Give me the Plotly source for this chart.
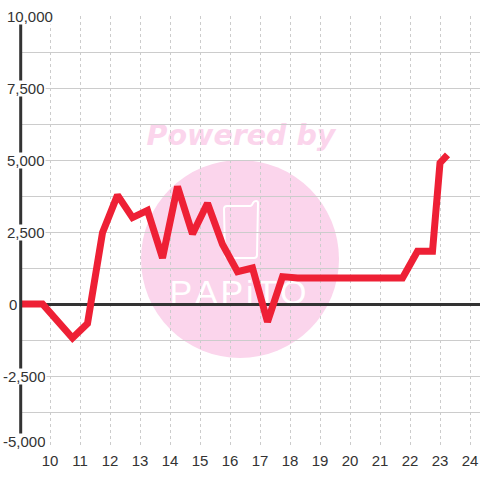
import plotly.graph_objects as go

hours = [8.9, 9.75, 10.75, 11.25, 11.75, 12.25, 12.75, 13.25, 13.75, 14.25, 14.75, 15.25, 15.75,
         16.25, 16.75, 17.25, 17.75, 18.25, 21.75, 22.25, 22.75, 23.0, 23.25]
values = [0, 0, -1180, -680, 2480, 3780, 3000, 3250, 1600, 4080, 2430, 3500, 2070,
          1120, 1250, -620, 950, 900, 900, 1830, 1830, 4900, 5180]
x_ticks = list(range(10, 25))
y_labels = [10000, 7500, 5000, 2500, 0, -2500, -5000]
y_label_left_px = [6, 6, 6, 6, 8, 2, 2]
y_label_lift_px = [0, 0, 0, 0, 0, 0, 7]

W, H = 480, 480
L, R, T, B = 20, 0, 16, 32
x_lo = 10 + (L + 0.5 - 50.5) / 30
x_hi = 10 + (W - R + 0.5 - 50.5) / 30
INK = "#333333"
PINK = "#fbd5ec"


def px(v):
    return (v - L) / (W - L - R)


def py(v):
    return (H - B - v) / (H - B - T)


phone = [("M", 227, 206), ("L", 250, 206), ("Q", 252, 206, 253, 203), ("Q", 254, 201, 256, 201),
         ("Q", 258, 201, 258, 203), ("L", 257, 255), ("Q", 257, 258, 254, 258), ("L", 228, 258),
         ("Q", 225, 258, 225, 255), ("L", 224, 209), ("Q", 224, 206, 227, 206)]
phone_path = " ".join(
    s[0] + " " + " ".join(f"{px(s[i])} {py(s[i + 1])}" for i in range(1, len(s), 2)) for s in phone
) + " Z"

fig = go.Figure(go.Scatter(
    x=hours, y=values, mode="lines", cliponaxis=False, hoverinfo="skip",
    line=dict(color="#ee2035", width=7, shape="linear"),
))

shapes = [
    dict(type="circle", xref="paper", yref="paper", layer="below", line_width=0, fillcolor=PINK,
         x0=px(141), x1=px(339), y0=py(358), y1=py(160)),
    dict(type="rect", xref="paper", yref="paper", layer="below", line_width=0, fillcolor="rgba(0,0,0,0)",
         x0=px(122), x1=px(360), y0=py(149), y1=py(117),
         label=dict(text="<b><i>Powered by</i></b>", textposition="middle center",
                    font=dict(family="DejaVu Sans", size=28.5, color=PINK))),
    dict(type="rect", xref="paper", yref="paper", layer="below", line_width=0, fillcolor="rgba(0,0,0,0)",
         x0=px(165), x1=px(311), y0=py(307), y1=py(271),
         label=dict(text="P\u200aA\u200aP\u200ai\u200aT\u200aO", textposition="middle center",
                    font=dict(family="Liberation Sans", size=34, color="#ffffff"))),
    dict(type="path", xref="paper", yref="paper", layer="below", line=dict(color="#ffffff", width=2),
         fillcolor="rgba(0,0,0,0)", path=phone_path),
    dict(type="line", xref="paper", yref="paper", layer="above", line=dict(color=INK, width=3),
         x0=px(20.7), x1=px(20.7), y0=0, y1=1),
]

annotations = [
    dict(x=0, xref="paper", y=v, yref="y", text=f"{v:,}", showarrow=False, xanchor="left",
         yanchor="middle", xshift=left - L, yshift=lift, bgcolor="#ffffff", borderpad=0, height=15,
         font=dict(family="Liberation Sans", size=15, color=INK))
    for v, left, lift in zip(y_labels, y_label_left_px, y_label_lift_px)
]

fig.update_layout(
    width=W, height=H, margin=dict(l=L, r=R, t=T, b=B, pad=0), autosize=False,
    paper_bgcolor="#ffffff", plot_bgcolor="rgba(0,0,0,0)", showlegend=False,
    shapes=shapes, annotations=annotations,
    xaxis=dict(range=[x_lo, x_hi], tickmode="array", tickvals=x_ticks, ticklen=0, showline=False,
               ticklabelstandoff=2,
               showgrid=True, gridcolor="#cccccc", gridwidth=1, griddash="3px,3px", zeroline=False,
               tickfont=dict(family="Liberation Sans", size=15, color=INK)),
    yaxis=dict(range=[-5000, 10000], dtick=1250, tick0=0, showticklabels=False, ticklen=0, showline=False,
               showgrid=True, gridcolor="#cccccc", gridwidth=1, zeroline=True,
               zerolinecolor=INK, zerolinewidth=3),
)

fig.write_html("out.html", config=dict(displayModeBar=False),
               post_script="document.body.style.margin='0';document.body.style.padding='0';document.documentElement.style.overflow='hidden';")
